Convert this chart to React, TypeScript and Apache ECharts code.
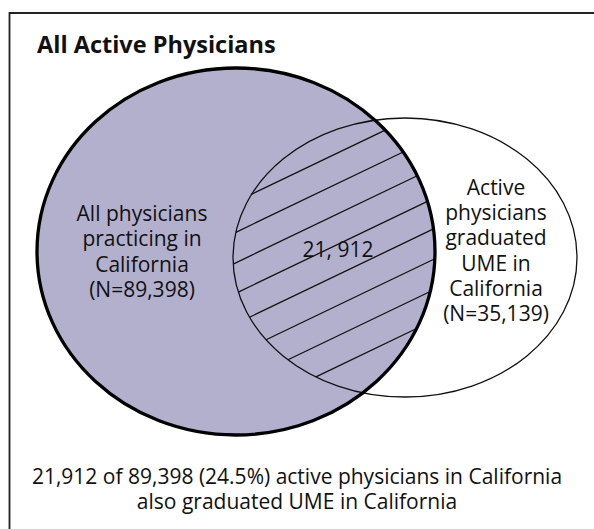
import React, { useEffect, useRef } from "react";
import * as echarts from "echarts";

// ---- data ----
const setNames = ["All physicians practicing in California", "Active physicians graduated UME in California"];
const setCounts = [89398, 35139];
const overlapCount = 21912;
const leftLabelLines = ["All physicians", "practicing in", "California"];
const rightLabelLines = ["Active", "physicians", "graduated", "UME in", "California"];
const titleText = "All Active Physicians";

// ---- layout (pixels) ----
const W = 594;
const H = 529;
const big = { cx: 236, cy: 251.5, rx: 199, ry: 183.5 };
const small = { cx: 405, cy: 257.5, rx: 172, ry: 139.5 };
const hatchSlope = 0.48; // y = c - slope * x
const hatchStart = 315;
const hatchStep = 30.5;
const hatchCount = 8;
const FONT = "'Open Sans', 'Noto Sans', sans-serif";
const LABEL_SIZE = 21;
const LINE_H = 25.3;

const fmt = (n: number) => n.toLocaleString("en-US");

function ellipseInterval(e: { cx: number; cy: number; rx: number; ry: number }, m: number, c: number) {
  const k = c - e.cy;
  const A = 1 / (e.rx * e.rx) + (m * m) / (e.ry * e.ry);
  const B = (-2 * e.cx) / (e.rx * e.rx) - (2 * k * m) / (e.ry * e.ry);
  const C = (e.cx * e.cx) / (e.rx * e.rx) + (k * k) / (e.ry * e.ry) - 1;
  const d = B * B - 4 * A * C;
  if (d <= 0) return null;
  const s = Math.sqrt(d);
  return [(-B - s) / (2 * A), (-B + s) / (2 * A)];
}

function hatchLines() {
  const out: any[] = [];
  for (let i = 0; i < hatchCount; i++) {
    const c = hatchStart + hatchStep * i;
    const a = ellipseInterval(big, hatchSlope, c);
    const b = ellipseInterval(small, hatchSlope, c);
    if (!a || !b) continue;
    const x1 = Math.max(a[0], b[0]);
    const x2 = Math.min(a[1], b[1]);
    if (x2 <= x1) continue;
    out.push({
      type: "line",
      silent: true,
      shape: { x1, y1: c - hatchSlope * x1, x2, y2: c - hatchSlope * x2 },
      style: { stroke: "#111", lineWidth: 1.3 },
    });
  }
  return out;
}

function textBlock(lines: string[], cx: number, cy: number, lineH: number) {
  const top = cy - ((lines.length - 1) * lineH) / 2;
  return lines.map((t, i) => ({
    type: "text",
    silent: true,
    style: {
      text: t,
      x: cx,
      y: top + i * lineH,
      textAlign: "center",
      textVerticalAlign: "middle",
      font: `${LABEL_SIZE}px ${FONT}`,
      fill: "#111",
    },
  }));
}

export default function App() {
  const ref = useRef<HTMLDivElement>(null);
  useEffect(() => {
    if (!ref.current) return;
    const chart = echarts.init(ref.current, undefined, { renderer: "svg", width: W, height: H });
    const pct = ((overlapCount / setCounts[0]) * 100).toFixed(1);
    const overlapLabel = fmt(overlapCount).replace(",", ", ");
    chart.setOption({
      animation: false,
      backgroundColor: "#ffffff",
      graphic: {
        elements: [
          // frame
          {
            type: "polyline",
            silent: true,
            shape: { points: [[9.5, H + 2], [9.5, 13], [W + 2, 13]] },
            style: { stroke: "#222", lineWidth: 1.8, fill: null },
          },
          {
            type: "text",
            style: {
              text: titleText,
              x: 37,
              y: 44,
              textVerticalAlign: "middle",
              font: `bold 23.5px ${FONT}`,
              fill: "#111",
            },
          },
          // big set fill
          {
            type: "ellipse",
            name: setNames[0],
            shape: { cx: big.cx, cy: big.cy, rx: big.rx, ry: big.ry },
            style: { fill: "#B3B0CD", stroke: null },
          },
          ...hatchLines(),
          // small set outline
          {
            type: "ellipse",
            name: setNames[1],
            shape: { cx: small.cx, cy: small.cy, rx: small.rx, ry: small.ry },
            style: { fill: null, stroke: "#111", lineWidth: 1.3 },
          },
          // big set outline
          {
            type: "ellipse",
            silent: true,
            shape: { cx: big.cx, cy: big.cy, rx: big.rx, ry: big.ry },
            style: { fill: null, stroke: "#000", lineWidth: 3.3 },
          },
          ...textBlock([...leftLabelLines, `(N=${fmt(setCounts[0])})`], 142, 251, LINE_H),
          ...textBlock([...rightLabelLines, `(N=${fmt(setCounts[1])})`], 496, 250, LINE_H),
          ...textBlock([overlapLabel], 338, 249, LINE_H),
          ...textBlock(
            [
              `${fmt(overlapCount)} of ${fmt(setCounts[0])} (${pct}%) active physicians in California`,
              "also graduated UME in California",
            ],
            297,
            488,
            25
          ),
        ],
      },
    });
    return () => chart.dispose();
  }, []);
  return <div ref={ref} style={{ position: "fixed", left: 0, top: 0, width: W, height: H }} />;
}
